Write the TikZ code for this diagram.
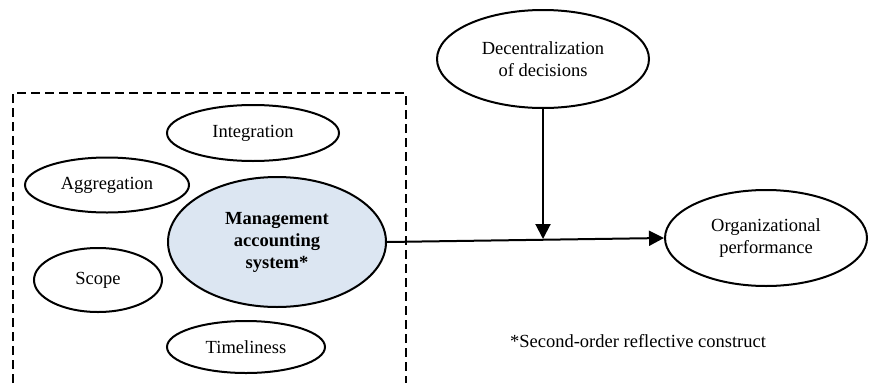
\documentclass[tikz,border=0pt]{standalone}
\usepackage{fontspec}
\setmainfont{Liberation Serif}
\usetikzlibrary{shapes.geometric,arrows.meta}
\definecolor{masblue}{HTML}{DCE6F2}
\tikzset{
  construct/.style={ellipse, draw=black, line width=2pt, inner sep=0pt, align=center,
    font=\fontsize{18.5}{21.5}\selectfont},
  conn/.style={line width=2pt, -{Triangle[length=15pt,width=15pt]}},
  dashbox/.style={line width=2pt, dash pattern=on 9pt off 5pt}
}
\begin{document}
\begin{tikzpicture}[x=1pt,y=-1pt]
\useasboundingbox (0,0) rectangle (869,383);
\draw[dashbox] (13,383) -- (13,93) -- (406,93) -- (406,383);
\node[construct, minimum width=172pt, minimum height=56pt] (int) at (253,133) {Integration};
\node[construct, minimum width=164pt, minimum height=55pt] (agg) at (107,185) {Aggregation};
\node[construct, fill=masblue, minimum width=218pt, minimum height=130pt, font=\fontsize{18.5}{22}\selectfont\bfseries] (mas) at (277,242) {Management\\accounting\\system*};
\node[construct, minimum width=128pt, minimum height=64pt] (scope) at (98,280) {Scope};
\node[construct, minimum width=158pt, minimum height=52pt] (time) at (246,347) {Timeliness};
\node[construct, minimum width=212pt, minimum height=98pt] (dec) at (543,59) {Decentralization\\of decisions};
\node[construct, minimum width=202pt, minimum height=96pt] (org) at (766,238) {Organizational\\performance};
\node[font=\fontsize{18.5}{21.5}\selectfont] (note) at (638,341) {*Second-order reflective construct};
\coordinate (mid) at (543,239);
\draw[conn] (mas.east) -- (org.west);
\draw[conn] (dec.south) -- (mid);
\end{tikzpicture}
\end{document}
